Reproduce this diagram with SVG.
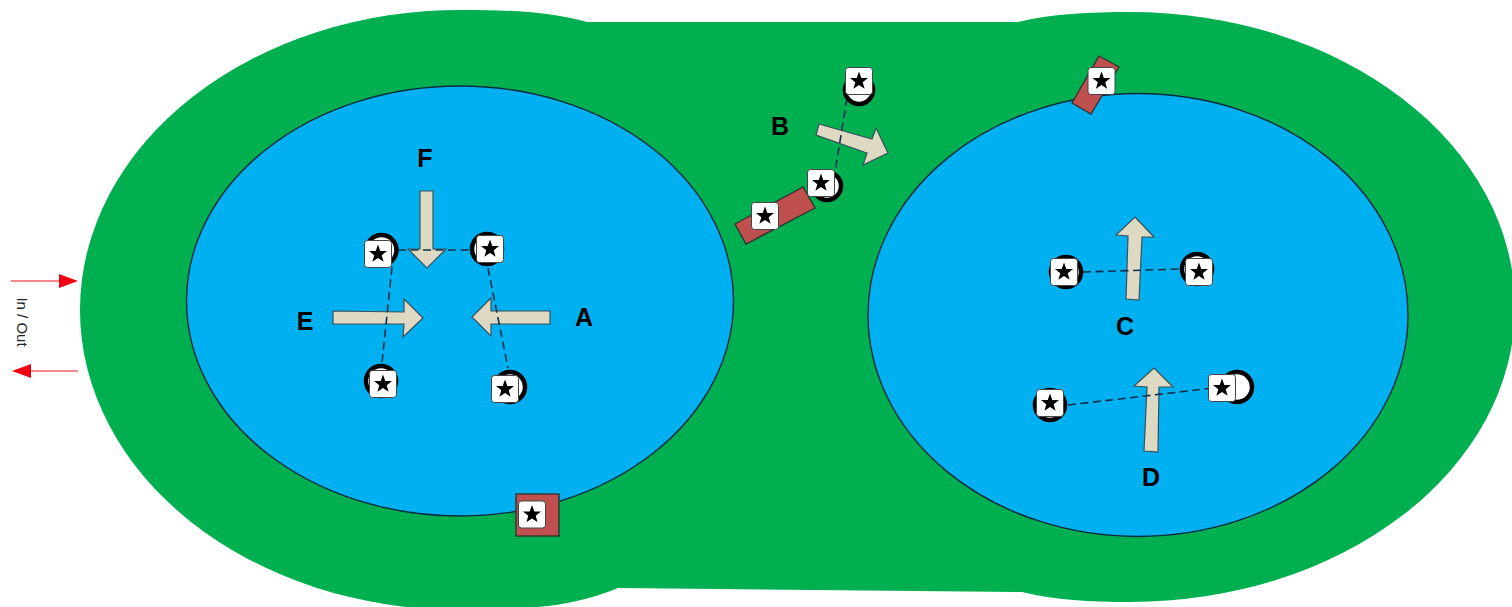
<svg xmlns="http://www.w3.org/2000/svg" width="1512" height="607" viewBox="0 0 1512 607">
<style>
.lake{fill:#00b0f0;stroke:#0b2a3a;stroke-width:1.4}
.dock{fill:#c0504d;stroke:#333;stroke-width:1.4}
.ring{fill:#fff;stroke:#000;stroke-width:4.500}
.tile{fill:#fff;stroke:#444;stroke-width:1}
.arrow{fill:#ddd9c3;stroke:#39505a;stroke-width:1.2}
.dash{fill:none;stroke:#10304a;stroke-width:1.6;stroke-dasharray:8 4.500}
.lab{font-family:"Liberation Sans",Arial,sans-serif;font-size:25px;font-weight:bold;fill:#000;text-anchor:middle}
.io{font-family:"Liberation Sans",Arial,sans-serif;font-size:15px;fill:#222;text-anchor:middle}
.red{stroke:#f01020;stroke-width:1.2;fill:none}
.redh{fill:#f00010}
</style>
<defs>
<g id="t"><rect class="tile" x="-13.500" y="-13.500" width="27" height="27" rx="3"/><polygon fill="#000" points="0,-9.5 2.3,-3 9,-2.9 3.7,1.2 5.6,7.7 0,3.9 -5.6,7.7 -3.7,1.2 -9,-2.9 -2.3,-3"/></g>
</defs>
<rect width="1512" height="607" fill="#fff"/>
<path id="ground" fill="#00b050" d="M80 310A380 300 0 0 1 465 10C510 10 550 12 587 22L1018 22C1050 14 1090 12 1130 12A385 295 0 0 1 1130 602C1090 602 1055 600 1022 592L618 588C590 600 555 607 520 608C500 610 480 610 460 610A380 300 0 0 1 80 310Z"/>
<ellipse id="lake-left" class="lake" cx="460" cy="301" rx="273.500" ry="215"/>
<ellipse id="lake-right" class="lake" cx="1138" cy="315" rx="270" ry="221.500"/>
<g id="arrow-f"><polygon class="arrow" points="420,191 433,191 433,249 446,249 427,268 408,249 420,249"/></g>
<g id="arrow-e"><polygon class="arrow" points="333,311 404,312 404,299 423,318 403,337 404,324 333,324"/></g>
<g id="arrow-a"><polygon class="arrow" points="550,311 491,311 491,298 472,317 491,336 491,324 550,324"/></g>
<g id="arrow-b"><polygon class="arrow" points="819,124 872,139 876,128 888,153 863,165 867,153 816,135"/></g>
<g id="arrow-c"><polygon class="arrow" points="1135,217 1154,237 1142,237 1139,300 1126,299 1128,236 1116,235"/></g>
<g id="arrow-d"><polygon class="arrow" points="1154,368 1173,387 1159,387 1158,452 1144,451 1147,387 1134,386"/></g>
<g id="connectors">
<path class="dash" d="M398 250L470 250"/>
<path class="dash" d="M392 267L382 363"/>
<path class="dash" d="M488 268L508 368"/>
<path class="dash" d="M847 98L835 172"/>
<path class="dash" d="M1083 272L1180 269"/>
<path class="dash" d="M1068 405L1213 388"/>
<path class="red" d="M11 281H62M78 371H27"/>
<path class="redh" d="M78 281L59 274V288ZM12 371L31 364V378Z"/>
</g>
<text class="lab" x="425" y="167">F</text>
<text class="lab" x="305" y="330">E</text>
<text class="lab" x="584" y="326">A</text>
<text class="lab" x="780" y="135">B</text>
<text class="lab" x="1125" y="335">C</text>
<text class="lab" x="1151" y="486">D</text>
<text class="io" transform="translate(17 322) rotate(90)">In / Out</text>
<g id="dock-left"><rect class="dock" x="516" y="494" width="43" height="42"/><use href="#t" x="532" y="514.500"/></g>
<g id="dock-mid"><polygon class="dock" points="735,224 803,187 815,208 746,244"/><use href="#t" x="765" y="216"/></g>
<g id="dock-top"><polygon class="dock" points="1099,56 1119,67 1091,114 1072,103"/><use href="#t" x="1101.500" y="81"/></g>
<g id="n1"><circle class="ring" cx="381.500" cy="250" r="15"/><use href="#t" x="378" y="254"/></g>
<g id="n2"><circle class="ring" cx="487" cy="249" r="15"/><use href="#t" x="490" y="249"/></g>
<g id="n3"><circle class="ring" cx="381" cy="381" r="15"/><use href="#t" x="383" y="384"/></g>
<g id="n4"><circle class="ring" cx="510" cy="387" r="15"/><use href="#t" x="505" y="389"/></g>
<g id="n5"><circle class="ring" cx="859" cy="90" r="14"/><use href="#t" x="859" y="81"/></g>
<g id="n6"><circle class="ring" cx="827" cy="186" r="14"/><use href="#t" x="821" y="183"/></g>
<g id="n7"><circle class="ring" cx="1066" cy="272" r="15"/><use href="#t" x="1064" y="272"/></g>
<g id="n8"><circle class="ring" cx="1197" cy="269" r="15"/><use href="#t" x="1199" y="272"/></g>
<g id="n9"><circle class="ring" cx="1050" cy="405" r="15"/><use href="#t" x="1050" y="403"/></g>
<g id="n10"><circle class="ring" cx="1237" cy="387" r="15"/><use href="#t" x="1222" y="388"/></g>
</svg>
